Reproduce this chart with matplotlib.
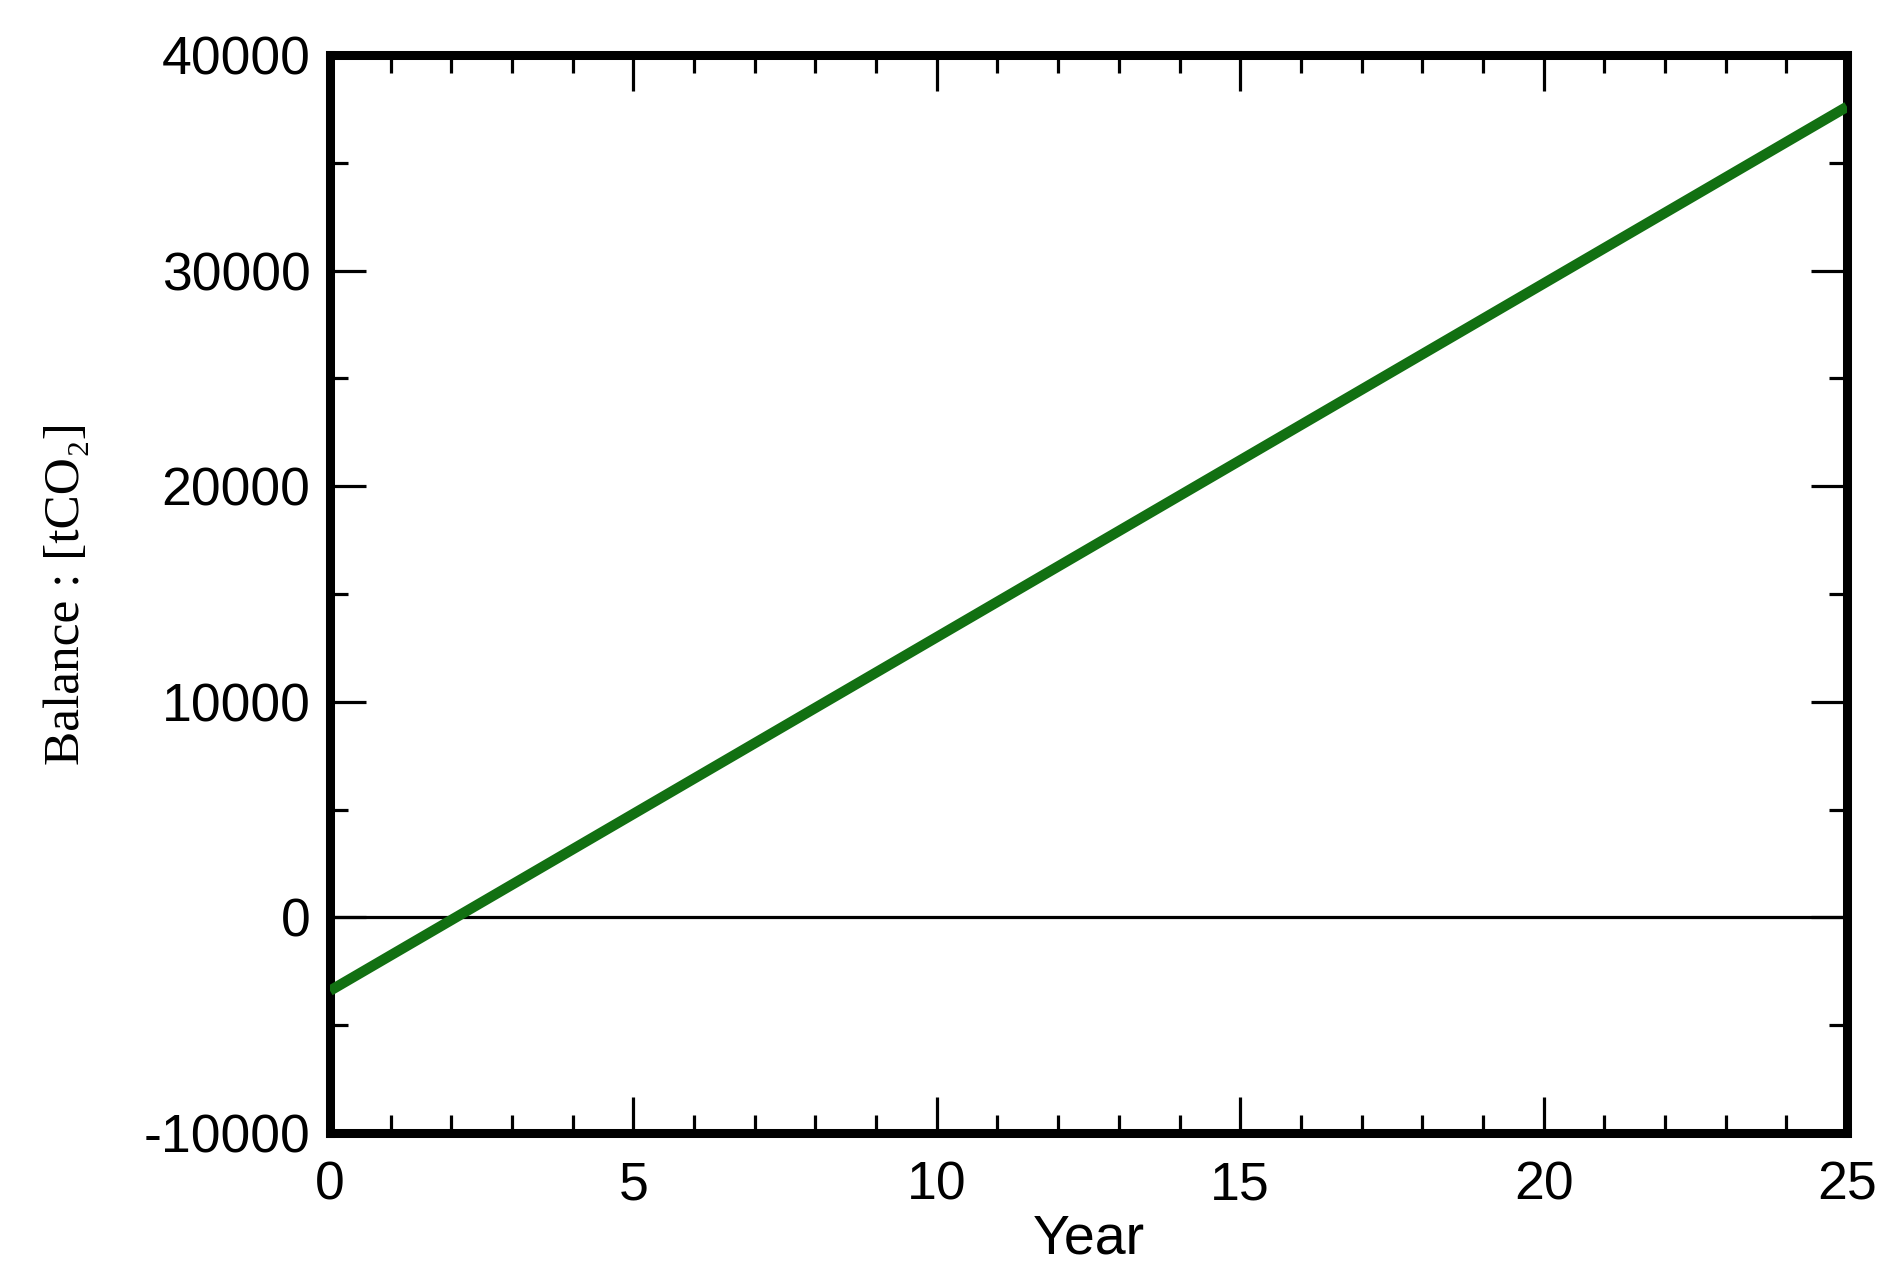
import matplotlib.pyplot as plt
from matplotlib.ticker import MultipleLocator

# values (straight line, year vs balance)
years = [0, 5, 10, 15, 20, 25]
balance = [-3400, 4800, 13000, 21200, 29400, 37600]

x_ticks = [0, 5, 10, 15, 20, 25]
y_ticks = [-10000, 0, 10000, 20000, 30000, 40000]

plt.rcParams['font.family'] = ['Liberation Sans', 'DejaVu Sans']
plt.rcParams['axes.unicode_minus'] = False

fig = plt.figure(figsize=(19.03, 12.88), dpi=100)
ax = fig.add_axes([330 / 1903, 1 - 1133 / 1288, (1847 - 330) / 1903, (1133 - 55) / 1288])

# zero line, then the balance line
ax.axhline(0, color='black', linewidth=2.3, zorder=2)
ax.plot(years, balance, color='#127012', linewidth=7.5, solid_capstyle='butt', zorder=3)

ax.set_xlim(0, 25)
ax.set_ylim(-10000, 40000)
ax.set_xticks(x_ticks)
ax.set_yticks(y_ticks)
ax.xaxis.set_minor_locator(MultipleLocator(1))
ax.yaxis.set_minor_locator(MultipleLocator(5000))

for s in ax.spines.values():
    s.set_linewidth(6.5)

ax.tick_params(which='both', direction='in', top=True, right=True, width=2.3, labelsize=38.5, colors='black')
ax.tick_params(which='major', length=26)
ax.tick_params(which='minor', length=13)
ax.tick_params(axis='y', which='major', pad=14)
ax.tick_params(axis='x', which='major', pad=20)

ax.set_xlabel('Year', fontsize=40, labelpad=2)
ax.set_ylabel('Balance : [tCO\u2082]', fontsize=37, family=['Liberation Serif', 'DejaVu Serif'], labelpad=39)

fig.savefig('out.png', dpi=100)
